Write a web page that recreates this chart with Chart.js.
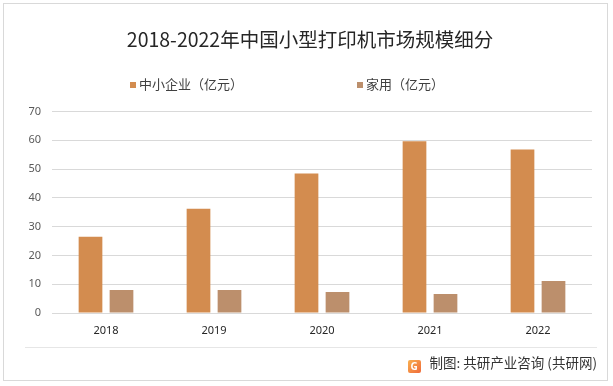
<!DOCTYPE html>
<html lang="zh-CN">
<head>
<meta charset="utf-8">
<title>2018-2022年中国小型打印机市场规模细分</title>
<script src="https://cdn.jsdelivr.net/npm/chart.js@4.4.1/dist/chart.umd.min.js"></script>
<style>
  html, body {
    margin: 0;
    padding: 0;
    background: #ffffff;
  }
  .frame {
    position: relative;
    width: 613px;
    height: 386px;
    overflow: hidden;
    font-family: "Noto Sans CJK SC", "Noto Sans", sans-serif;
  }
  .frame-border {
    position: absolute;
    left: 3px;
    top: 3px;
    width: 603px;
    height: 376px;
    border: 1px solid #d9d9d9;
  }
  #market-chart {
    position: absolute;
    left: 0;
    top: 0;
  }
  .legend-item {
    position: absolute;
    top: 75px;
    font-size: 13px;
    line-height: 18px;
    color: #404040;
    white-space: nowrap;
  }
  .legend-box {
    display: inline-block;
    width: 6px;
    height: 6px;
    margin-right: 3px;
    vertical-align: 1px;
  }
  .source-line {
    position: absolute;
    left: 25px;
    top: 347px;
    width: 572px;
    height: 1px;
    background: #e6e6e6;
  }
  .source {
    position: absolute;
    right: 16px;
    top: 353px;
    font-size: 13.5px;
    line-height: 18px;
    color: #333333;
    white-space: nowrap;
  }
  .source-logo {
    display: inline-block;
    width: 13px;
    height: 13px;
    margin-right: 9px;
    vertical-align: -2px;
    border-radius: 2px;
    background: linear-gradient(135deg, #f9b04f, #ef6a3a);
    color: #ffffff;
    font: bold 10px/13px "Noto Sans", sans-serif;
    text-align: center;
  }
</style>
</head>
<body>
<div class="frame">
  <div class="frame-border"></div>
  <canvas id="market-chart" width="613" height="386"></canvas>
  <div id="legend"></div>
  <div class="source-line"></div>
  <div class="source"><span class="source-logo">G</span>制图: 共研产业咨询 (共研网)</div>
</div>
<script>
const chartTitle = '2018-2022年中国小型打印机市场规模细分';

const years = ['2018', '2019', '2020', '2021', '2022'];

const smeValues = [26.5, 36.2, 48.4, 59.6, 56.8];
const homeValues = [8.0, 8.0, 7.3, 6.6, 11.1];

const seriesNames = ['中小企业（亿元）', '家用（亿元）'];
const seriesColors = ['#d38c4f', '#bc8f6c'];

const yTicks = [0, 10, 20, 30, 40, 50, 60, 70];

// left edge of each legend entry
const legendLeft = [130, 357];

function renderLegend(chart) {
  // builds the legend as html, from the same datasets the chart uses
  const holder = document.getElementById('legend');
  holder.innerHTML = '';
  chart.data.datasets.forEach((dataset, index) => {
    const item = document.createElement('div');
    item.className = 'legend-item';
    item.style.left = legendLeft[index] + 'px';

    const box = document.createElement('span');
    box.className = 'legend-box';
    box.style.background = dataset.backgroundColor;

    item.appendChild(box);
    item.appendChild(document.createTextNode(dataset.label));
    holder.appendChild(item);
  });
}

function renderChart() {
  const canvas = document.getElementById('market-chart');
  if (!canvas || typeof Chart === 'undefined') return;

  const chart = new Chart(canvas, {
    type: 'bar',
    data: {
      labels: years,
      datasets: [
        {
          label: seriesNames[0],
          data: smeValues,
          backgroundColor: seriesColors[0]
        },
        {
          label: seriesNames[1],
          data: homeValues,
          backgroundColor: seriesColors[1]
        }
      ]
    },
    options: {
      responsive: false,
      animation: false,
      layout: {
        padding: { top: 28, right: 21, bottom: 43, left: 28 }
      },
      datasets: {
        bar: {
          categoryPercentage: 0.574,
          barPercentage: 0.765
        }
      },
      plugins: {
        legend: { display: false },
        tooltip: { enabled: false },
        title: {
          display: true,
          text: chartTitle,
          color: '#262626',
          font: { family: '"Noto Sans CJK SC", sans-serif', size: 19.5, weight: 'normal', lineHeight: 1.2 },
          padding: { top: 0, bottom: 60 }
        }
      },
      scales: {
        x: {
          grid: { display: false, drawTicks: false },
          border: { display: false },
          ticks: {
            color: '#262626',
            padding: 11,
            font: { family: '"Noto Sans", sans-serif', size: 11 }
          },
          afterFit: (scale) => { scale.height = 30; }
        },
        y: {
          min: yTicks[0],
          max: yTicks[yTicks.length - 1],
          afterBuildTicks: (scale) => {
            scale.ticks = yTicks.map((value) => ({ value }));
          },
          grid: { color: '#d9d9d9', lineWidth: 1, drawTicks: false },
          border: { display: false },
          ticks: {
            color: '#595959',
            padding: 11,
            font: { family: '"Noto Sans", sans-serif', size: 11 }
          },
          afterFit: (scale) => { scale.width = 24; }
        }
      }
    }
  });

  renderLegend(chart);
}

renderChart();
</script>
</body>
</html>
